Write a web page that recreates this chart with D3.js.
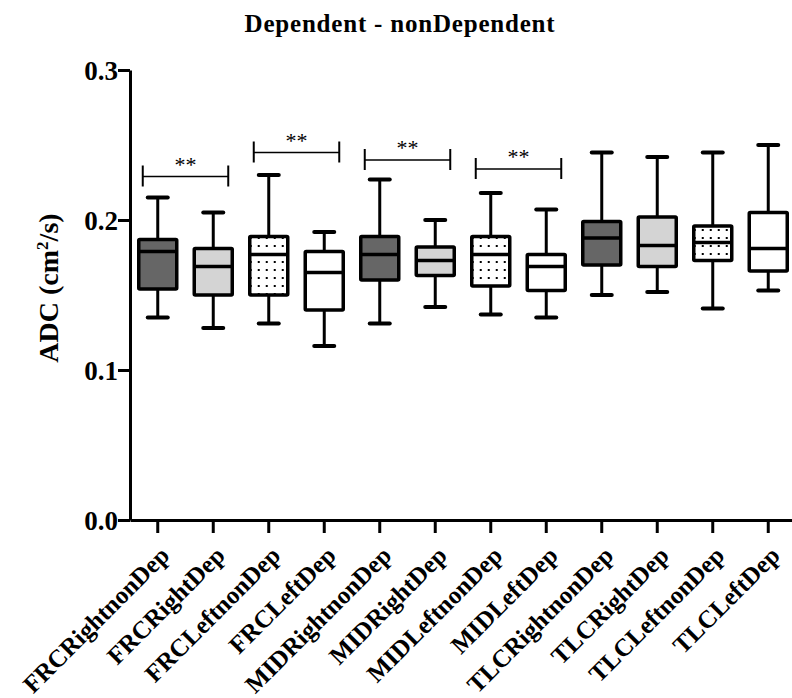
<!DOCTYPE html>
<html>
<head>
<meta charset="utf-8">
<title>ADC box plot</title>
<style>
  body { margin: 0; background: #fff; }
  svg text { font-family: "Liberation Serif", "Times New Roman", serif; font-weight: bold; }
</style>
</head>
<body>
<svg id="viz" width="792" height="698"></svg>
<script src="https://d3js.org/d3.v7.min.js"></script>
<script>
// data
var categories = ["FRCRightnonDep", "FRCRightDep", "FRCLeftnonDep", "FRCLeftDep",
                  "MIDRightnonDep", "MIDRightDep", "MIDLeftnonDep", "MIDLeftDep",
                  "TLCRightnonDep", "TLCRightDep", "TLCLeftnonDep", "TLCLeftDep"];
var whiskerLow  = [0.135, 0.128, 0.131, 0.116, 0.131, 0.142, 0.137, 0.135, 0.150, 0.152, 0.141, 0.153];
var q1          = [0.154, 0.150, 0.150, 0.140, 0.160, 0.163, 0.156, 0.153, 0.170, 0.169, 0.173, 0.166];
var medians     = [0.179, 0.169, 0.177, 0.165, 0.177, 0.173, 0.177, 0.169, 0.188, 0.183, 0.185, 0.181];
var q3          = [0.187, 0.181, 0.189, 0.179, 0.189, 0.182, 0.189, 0.177, 0.199, 0.202, 0.196, 0.205];
var whiskerHigh = [0.215, 0.205, 0.230, 0.192, 0.227, 0.200, 0.218, 0.207, 0.245, 0.242, 0.245, 0.250];
var yTicks = [0.0, 0.1, 0.2, 0.3];

// significance brackets: first and second category index, height, label
var sigFrom   = [0, 2, 4, 6];
var sigTo     = [1, 3, 5, 7];
var sigLevel  = [0.229, 0.245, 0.240, 0.234];
var sigLabels = ["**", "**", "**", "**"];

var groupKeys = ["RightnonDep", "RightDep", "LeftnonDep", "LeftDep"];

var boxes = categories.map(function(c, i) {
  return {name: c, lo: whiskerLow[i], q1: q1[i], med: medians[i], q3: q3[i], hi: whiskerHigh[i],
          group: c.replace(/^(FRC|MID|TLC)/, "")};
});

var svg = d3.select("#viz");

// pattern of dots
var defs = svg.append("defs");
var pat = defs.append("pattern").attr("id", "dots")
  .attr("patternUnits", "userSpaceOnUse").attr("width", 8).attr("height", 8)
  .attr("x", 2).attr("y", 2);
pat.append("rect").attr("width", 8).attr("height", 8).attr("fill", "#fff");
pat.append("rect").attr("x", 3).attr("y", 3).attr("width", 2).attr("height", 2).attr("fill", "#000");

const x = d3.scaleBand().domain(categories).range([130, 796]).padding(0);
const y = d3.scaleLinear().domain([0, 0.3]).range([520, 70]);
const fill = d3.scaleOrdinal().domain(groupKeys).range(["#666666", "#d4d4d4", "url(#dots)", "#ffffff"]);

const boxW = 38, capW = 20;

// title
svg.append("text").attr("x", 400).attr("y", 32).attr("text-anchor", "middle")
  .style("font-size", "25px").style("letter-spacing", "0.8px").text("Dependent - nonDependent");

// y axis
const gy = svg.append("g").attr("transform", "translate(130,0)")
  .call(d3.axisLeft(y).tickValues(yTicks).tickFormat(d3.format(".1f")).tickSize(12).tickSizeOuter(0));
gy.select(".domain").attr("stroke-width", 3);
gy.selectAll(".tick line").attr("stroke-width", 3);
gy.selectAll(".tick text").attr("x", -12).attr("dy", "0.34em")
  .style("font-size", "27px").attr("fill", "#000");

svg.append("text")
  .attr("transform", "translate(58,288) rotate(-90)")
  .attr("text-anchor", "middle").style("font-size", "28px")
  .call(function(t) {
    t.append("tspan").text("ADC (cm");
    t.append("tspan").attr("dy", -10).style("font-size", "17px").text("2");
    t.append("tspan").attr("dy", 10).text("/s)");
  });

// x axis
const gx = svg.append("g").attr("transform", "translate(0,520)")
  .call(d3.axisBottom(x).tickSize(13).tickSizeOuter(0));
gx.select(".domain").attr("stroke-width", 3);
gx.selectAll(".tick line").attr("stroke-width", 3);
gx.selectAll(".tick text")
  .attr("y", 0).attr("dy", 0)
  .attr("transform", "translate(13,37) rotate(-45)")
  .attr("text-anchor", "end").attr("fill", "#000")
  .style("font-size", "25px");

// boxes
const gb = svg.append("g").selectAll("g").data(boxes).join("g")
  .attr("transform", d => `translate(${x(d.name) + x.bandwidth() / 2},0)`);

gb.append("line").attr("y1", d => y(d.hi)).attr("y2", d => y(d.q3))
  .attr("stroke", "#000").attr("stroke-width", 3);
gb.append("line").attr("y1", d => y(d.q1)).attr("y2", d => y(d.lo))
  .attr("stroke", "#000").attr("stroke-width", 3);
gb.append("line").attr("x1", -capW / 2).attr("x2", capW / 2)
  .attr("y1", d => y(d.hi)).attr("y2", d => y(d.hi))
  .attr("stroke", "#000").attr("stroke-width", 4).attr("stroke-linecap", "round");
gb.append("line").attr("x1", -capW / 2).attr("x2", capW / 2)
  .attr("y1", d => y(d.lo)).attr("y2", d => y(d.lo))
  .attr("stroke", "#000").attr("stroke-width", 4).attr("stroke-linecap", "round");
gb.append("rect").attr("x", -boxW / 2).attr("width", boxW)
  .attr("y", d => y(d.q3)).attr("height", d => y(d.q1) - y(d.q3))
  .attr("fill", d => fill(d.group)).attr("stroke", "#000").attr("stroke-width", 3.5)
  .attr("rx", 1);
gb.append("line").attr("x1", -boxW / 2).attr("x2", boxW / 2)
  .attr("y1", d => y(d.med)).attr("y2", d => y(d.med))
  .attr("stroke", "#000").attr("stroke-width", 3.5);

// significance brackets
sigFrom.forEach(function(a, i) {
  var x1 = x(categories[a]) + x.bandwidth() / 2 - 15;
  var x2 = x(categories[sigTo[i]]) + x.bandwidth() / 2 + 15;
  var yy = y(sigLevel[i]);
  var g = svg.append("g");
  g.append("line").attr("x1", x1).attr("x2", x2).attr("y1", yy).attr("y2", yy)
    .attr("stroke", "#000").attr("stroke-width", 1.5);
  [x1, x2].forEach(function(xx) {
    g.append("line").attr("x1", xx).attr("x2", xx).attr("y1", yy - 11).attr("y2", yy + 10)
      .attr("stroke", "#000").attr("stroke-width", 2);
  });
  g.append("text").attr("x", (x1 + x2) / 2).attr("y", yy - 5).attr("text-anchor", "middle")
    .style("font-size", "22px").style("font-weight", "normal").text(sigLabels[i]);
});
</script>
</body>
</html>
